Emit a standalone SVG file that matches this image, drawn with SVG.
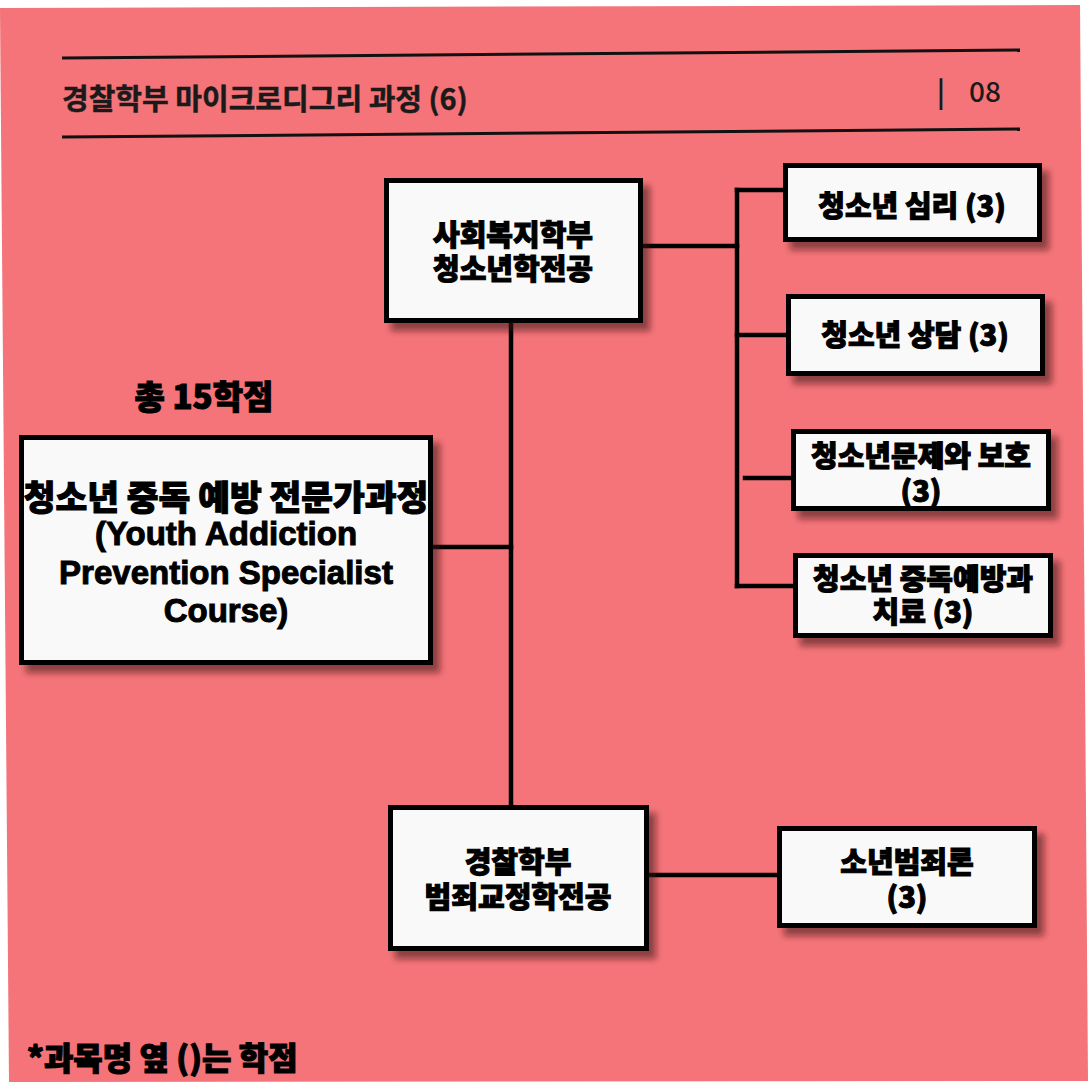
<svg xmlns="http://www.w3.org/2000/svg" width="1090" height="1090" viewBox="0 0 1090 1090">
  <defs>
    <filter id="shadow" x="-10%" y="-10%" width="130%" height="140%">
      <feDropShadow dx="7" dy="8" stdDeviation="3" flood-color="#3a1010" flood-opacity="0.55"/>
    </filter>
  </defs>
  <style>
    .box { fill: #f9f9f9; stroke: #000; stroke-width: 5; filter: url(#shadow); }
    .kr { font-family: "Noto Sans CJK KR", "Liberation Sans", sans-serif; font-weight: 900; fill: #000; stroke: #000; stroke-width: 1.1; text-anchor: middle; dominant-baseline: central; }
    .en { font-family: "Liberation Sans", "Noto Sans CJK KR", sans-serif; font-weight: 700; fill: #000; stroke: #000; stroke-width: 1; text-anchor: middle; dominant-baseline: central; }
    .note { font-family: "Noto Sans CJK KR", "Liberation Sans", sans-serif; font-weight: 900; fill: #000; stroke: #000; stroke-width: 1.1; text-anchor: start; dominant-baseline: central; }
    .conn { stroke: #000; stroke-width: 4.5; fill: none; stroke-linecap: square; }
    .rule { stroke: #111; stroke-width: 3; }
    .hdr { font-family: "Noto Sans CJK KR", sans-serif; fill: #1a1a1a; dominant-baseline: central; }
  </style>
  <rect x="0" y="0" width="1090" height="1090" fill="#ffffff"/>
  <polygon points="0,8 1080,5 1088,1081 9,1082" fill="#f47479"/>

  <g id="header">
    <line class="rule" x1="62" y1="58" x2="1020" y2="50"/>
    <line class="rule" x1="62" y1="137" x2="1020" y2="129"/>
    <text class="hdr" x="62" y="97" font-weight="700" font-size="29" stroke="#1a1a1a" stroke-width="0.5">경찰학부 마이크로디그리 과정 (6)</text>
    <text class="hdr" x="941" y="90" font-weight="700" font-size="28" text-anchor="middle">|</text>
    <text class="hdr" x="985" y="90" font-weight="500" font-size="28" text-anchor="middle">08</text>
  </g>

  <g id="connectors">
    <line class="conn" x1="511" y1="322" x2="511" y2="806"/>
    <line class="conn" x1="432" y1="547" x2="511" y2="547"/>
    <line class="conn" x1="642" y1="246" x2="737" y2="246"/>
    <line class="conn" x1="737" y1="190" x2="737" y2="586"/>
    <line class="conn" x1="737" y1="190" x2="784" y2="190"/>
    <line class="conn" x1="737" y1="335" x2="787" y2="335"/>
    <line class="conn" x1="745" y1="478" x2="792" y2="478"/>
    <line class="conn" x1="737" y1="586" x2="794" y2="586"/>
    <line class="conn" x1="647" y1="875" x2="778" y2="875"/>
  </g>

  <g id="total-credits">
    <text class="kr" x="204" y="395" font-size="33">총 15학점</text>
  </g>

  <g id="node-main">
    <rect class="box" x="21.5" y="437.5" width="409" height="225"/>
    <text class="kr" x="226" y="495" font-size="34.5">청소년 중독 예방 전문가과정</text>
    <text class="en" font-size="33"><tspan x="226" y="533">(Youth Addiction</tspan><tspan x="226" y="572">Prevention Specialist</tspan><tspan x="226" y="610">Course)</tspan></text>
  </g>

  <g id="node-social-welfare">
    <rect class="box" x="386.5" y="180.5" width="254" height="140"/>
    <text class="kr" font-size="29"><tspan x="513" y="233">사회복지학부</tspan><tspan x="513" y="267">청소년학전공</tspan></text>
  </g>

  <g id="node-psych">
    <rect class="box" x="785.5" y="165.5" width="254" height="74"/>
    <text class="kr" x="912" y="204" font-size="29">청소년 심리 (3)</text>
  </g>

  <g id="node-counsel">
    <rect class="box" x="788.5" y="296.5" width="254" height="77"/>
    <text class="kr" x="915" y="333" font-size="29">청소년 상담 (3)</text>
  </g>

  <g id="node-problem">
    <rect class="box" x="793.5" y="431.5" width="255" height="77"/>
    <text class="kr" font-size="29"><tspan x="921" y="454">청소년문제와 보호</tspan><tspan x="921" y="489">(3)</tspan></text>
  </g>

  <g id="node-addiction">
    <rect class="box" x="795.5" y="555.5" width="255" height="80"/>
    <text class="kr" font-size="29"><tspan x="923" y="577">청소년 중독예방과</tspan><tspan x="923" y="610">치료 (3)</tspan></text>
  </g>

  <g id="node-police">
    <rect class="box" x="390.5" y="807.5" width="256" height="141"/>
    <text class="kr" font-size="29"><tspan x="518" y="860">경찰학부</tspan><tspan x="518" y="895">범죄교정학전공</tspan></text>
  </g>

  <g id="node-juvenile">
    <rect class="box" x="779.5" y="828.5" width="255" height="97"/>
    <text class="kr" font-size="29"><tspan x="907" y="860">소년범죄론</tspan><tspan x="907" y="895">(3)</tspan></text>
  </g>

  <g id="footnote">
    <text class="note" x="27" y="1056" font-size="32">*과목명 옆 ()는 학점</text>
  </g>
</svg>
